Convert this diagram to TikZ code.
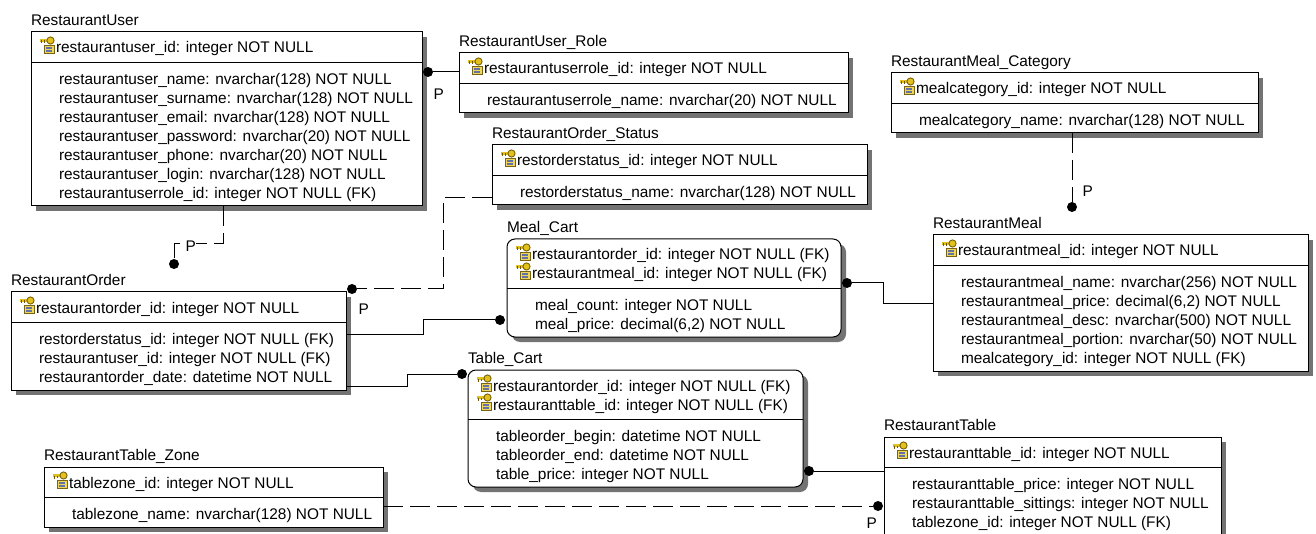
\documentclass[tikz,border=0pt]{standalone}
\usepackage{fontspec}
\setmainfont{Liberation Sans}
\definecolor{keygold}{RGB}{226,192,30}
\definecolor{keydark}{RGB}{110,85,0}
\definecolor{cardfill}{RGB}{240,215,90}
\definecolor{cardline}{RGB}{120,100,20}
\definecolor{stripe}{RGB}{100,115,165}
\newcommand\efont{\fontsize{15.4}{19}\selectfont}
\newcommand\keyicon[2]{%
  \filldraw[fill=cardfill,draw=cardline,line width=0.8pt] ({#1+4},{#2-8}) rectangle ({#1+14},{#2+0.5});
  \draw[stripe,line width=1.3pt] ({#1+6},{#2-5}) -- ({#1+12},{#2-5}) ({#1+6},{#2-2}) -- ({#1+12},{#2-2});
  \draw[keygold,line width=2.2pt] ({#1},{#2-12.5}) -- ({#1+9},{#2-12.5});
  \draw[keydark,line width=1pt] ({#1+1.5},{#2-12.5}) -- ({#1+1.5},{#2-9.5}) ({#1+4},{#2-12.5}) -- ({#1+4},{#2-10});
  \filldraw[fill=keygold,draw=keydark,line width=0.8pt] ({#1+10.5},{#2-12.5}) circle (3.6pt);
}
\newcommand\entbox[8]{%
  \pgfmathsetmacro\ex{#3}\pgfmathsetmacro\ey{#4}%
  \pgfmathsetmacro\esep{#4+30.5+19*(#6-1)}%
  \pgfmathsetmacro\ebot{\esep+19*#7+10.5}%
  \pgfmathsetmacro\ew{#5-#3}\pgfmathsetmacro\eh{\ebot-#4}%
  \edef\ename{#1}%
  \fill[shadowfill,#2] ({#3+5},{#4+5}) rectangle ({#5+5},{\ebot+5});
  \node[ebox,#2,minimum width=\ew pt,minimum height=\eh pt,anchor=north west] (#1) at (#3,#4) {};
  \draw[sepline] (#1.west |- 0,\esep) -- (#1.east |- 0,\esep);
  \node[txt] (#1-t) at ({#3},{#4-6.5}) {#8};
}
\newcommand\ekeys[1]{%
  \foreach \t [count=\i] in {#1} {%
    \pgfmathsetmacro\kx{\ex+9}%
    \pgfmathsetmacro\tx{\ex+25}%
    \pgfmathsetmacro\ky{\ey+21+19*(\i-1)}%
    \keyicon{\kx}{\ky}
    \node[txt] (\ename-k\i) at (\tx,\ky) {\t};
  }%
}
\newcommand\eattrs[1]{%
  \foreach \t [count=\i] in {#1} {%
    \pgfmathsetmacro\tx{\ex+28}%
    \pgfmathsetmacro\ay{\esep+22+19*(\i-1)}%
    \node[txt] (\ename-a\i) at (\tx,\ay) {\t};
  }%
}
\begin{document}
\begin{tikzpicture}[x=1pt,y=-1pt,
  ebox/.style={draw=black,fill=white,inner sep=0pt,outer sep=0pt,line width=1pt},
  sqbox/.style={},
  rnd/.style={rounded corners=8pt},
  shadowfill/.style={fill=black!55},
  sepline/.style={line width=1pt},
  txt/.style={anchor=base west,inner sep=0pt,outer sep=0pt,font=\efont},
  plab/.style={anchor=base west,inner sep=0.5pt,outer sep=0pt,font=\efont,fill=white},
  dotn/.style={circle,fill=black,inner sep=0pt,minimum size=10pt},
  rel/.style={line width=1pt},
  idrel/.style={line width=1pt,dash pattern=on 20pt off 7pt},
]
\fill[white] (0,0) rectangle (1316,534);
\useasboundingbox (0,0) rectangle (1316,534);

% RestaurantUser
\entbox{user}{sqbox}{31}{32}{422}{1}{7}{RestaurantUser}
\ekeys{{restaurantuser\_id: integer NOT NULL}}
\eattrs{{restaurantuser\_name: nvarchar(128) NOT NULL},
  {restaurantuser\_surname: nvarchar(128) NOT NULL},
  {restaurantuser\_email: nvarchar(128) NOT NULL},
  {restaurantuser\_password: nvarchar(20) NOT NULL},
  {restaurantuser\_phone: nvarchar(20) NOT NULL},
  {restaurantuser\_login: nvarchar(128) NOT NULL},
  {restaurantuserrole\_id: integer NOT NULL (FK)}}

% RestaurantUser_Role
\entbox{role}{sqbox}{459}{53}{848}{1}{1}{RestaurantUser\_Role}
\ekeys{{restaurantuserrole\_id: integer NOT NULL}}
\eattrs{{restaurantuserrole\_name: nvarchar(20) NOT NULL}}

% RestaurantOrder_Status
\entbox{status}{sqbox}{492}{145}{867}{1}{1}{RestaurantOrder\_Status}
\ekeys{{restorderstatus\_id: integer NOT NULL}}
\eattrs{{restorderstatus\_name: nvarchar(128) NOT NULL}}

% RestaurantMeal_Category
\entbox{category}{sqbox}{891}{73}{1258}{1}{1}{RestaurantMeal\_Category}
\ekeys{{mealcategory\_id: integer NOT NULL}}
\eattrs{{mealcategory\_name: nvarchar(128) NOT NULL}}

% RestaurantMeal
\entbox{meal}{sqbox}{933}{235}{1308}{1}{5}{RestaurantMeal}
\ekeys{{restaurantmeal\_id: integer NOT NULL}}
\eattrs{{restaurantmeal\_name: nvarchar(256) NOT NULL},
  {restaurantmeal\_price: decimal(6,2) NOT NULL},
  {restaurantmeal\_desc: nvarchar(500) NOT NULL},
  {restaurantmeal\_portion: nvarchar(50) NOT NULL},
  {mealcategory\_id: integer NOT NULL (FK)}}

% Meal_Cart
\entbox{mealcart}{rnd}{507}{239}{841}{2}{2}{Meal\_Cart}
\ekeys{{restaurantorder\_id: integer NOT NULL (FK)},
  {restaurantmeal\_id: integer NOT NULL (FK)}}
\eattrs{{meal\_count: integer NOT NULL},
  {meal\_price: decimal(6,2) NOT NULL}}

% RestaurantOrder
\entbox{order}{sqbox}{11}{292}{346}{1}{3}{RestaurantOrder}
\ekeys{{restaurantorder\_id: integer NOT NULL}}
\eattrs{{restorderstatus\_id: integer NOT NULL (FK)},
  {restaurantuser\_id: integer NOT NULL (FK)},
  {restaurantorder\_date: datetime NOT NULL}}

% Table_Cart
\entbox{tablecart}{rnd}{468}{370}{803}{2}{3}{Table\_Cart}
\ekeys{{restaurantorder\_id: integer NOT NULL (FK)},
  {restauranttable\_id: integer NOT NULL (FK)}}
\eattrs{{tableorder\_begin: datetime NOT NULL},
  {tableorder\_end: datetime NOT NULL},
  {table\_price: integer NOT NULL}}

% RestaurantTable
\entbox{table}{sqbox}{884}{437}{1221}{1}{3}{RestaurantTable}
\ekeys{{restauranttable\_id: integer NOT NULL}}
\eattrs{{restauranttable\_price: integer NOT NULL},
  {restauranttable\_sittings: integer NOT NULL},
  {tablezone\_id: integer NOT NULL (FK)}}

% RestaurantTable_Zone
\entbox{zone}{sqbox}{44}{467}{383}{1}{1}{RestaurantTable\_Zone}
\ekeys{{tablezone\_id: integer NOT NULL}}
\eattrs{{tablezone\_name: nvarchar(128) NOT NULL}}

% ---- relationships ----
% User -> Role
\node[dotn] (d-role) at (428,72) {};
\draw[rel] (d-role) -- (role.west |- d-role);
\node[plab] (p-role) at (433,100) {P};

% User -> Order (identifying, dashed)
\node[dotn] (d-uo) at (174,264) {};
\draw[idrel] (user.south -| 223,0) |- (d-uo |- 0,244) -- (d-uo);
\node[plab] (p-uo) at (185,252) {P};

% Status -> Order
\node[dotn] (d-so) at (352,289) {};
\draw[idrel] (status.west |- 0,198) -| (d-so -| 443,0) -- (d-so);
\node[plab] (p-so) at (358,315) {P};

% Order -> Meal_Cart
\node[dotn] (d-om) at (500,320) {};
\draw[rel] (order.east |- 0,334) -- (423,334) -- (423,320) -- (d-om);

% Order -> Table_Cart
\node[dotn] (d-ot) at (462,374) {};
\draw[rel] (order.east |- 0,386) -- (407,386) -- (407,374) -- (d-ot);

% Meal_Cart -> RestaurantMeal
\node[dotn] (d-mm) at (847,283) {};
\draw[rel] (d-mm) -- (883,283) -- (883,304) -- (meal.west |- 0,304);

% Category -> Meal
\node[dotn] (d-cm) at (1072,207) {};
\draw[idrel] (category.south -| d-cm) -- (d-cm);
\node[plab] (p-cm) at (1082,197) {P};

% Table_Cart -> RestaurantTable
\node[dotn] (d-tt) at (809,471) {};
\draw[rel] (d-tt) -- (table.west |- d-tt);

% Zone -> Table
\node[dotn] (d-zt) at (878,506) {};
\draw[idrel] (zone.east |- d-zt) -- (d-zt);
\node[plab] (p-zt) at (866,528) {P};
\end{tikzpicture}
\end{document}
